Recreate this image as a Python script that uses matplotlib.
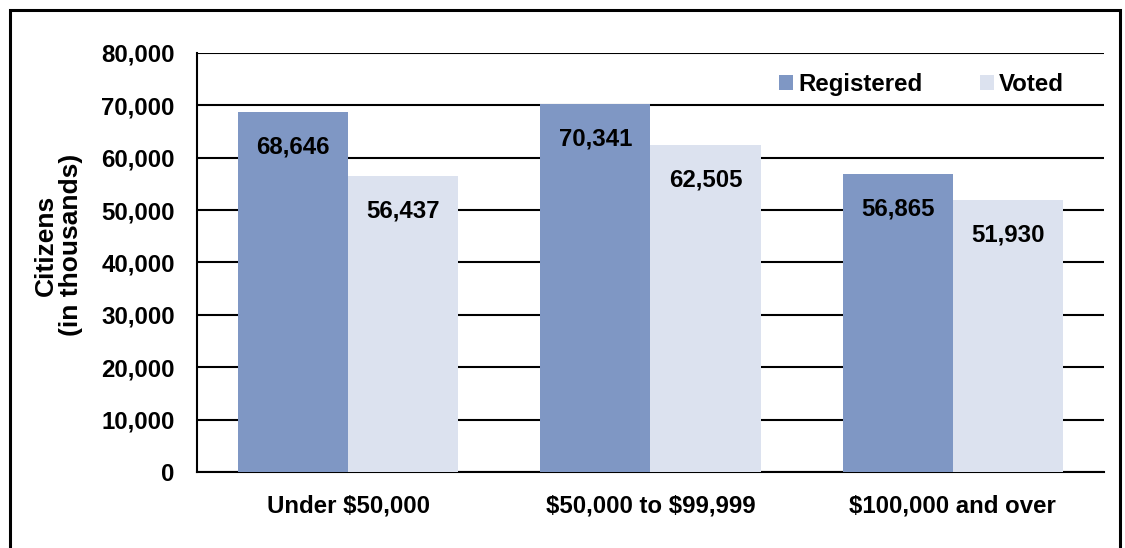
"""Registered vs voted citizens by family income (grouped bars)."""

import matplotlib
matplotlib.use("Agg")
import matplotlib.pyplot as plt
import numpy as np
from matplotlib.patches import Rectangle

CATEGORIES = ["Under \\$50,000", "\\$50,000 to \\$99,999", "\\$100,000 and over"]
REGISTERED = [68646, 70341, 56865]
VOTED = [56437, 62505, 51930]
YTICKS = [0, 10000, 20000, 30000, 40000, 50000, 60000, 70000, 80000]

C_REG = "#7F97C4"
C_VOT = "#DCE2EF"
FS = 17.3


def main():
    plt.rcParams["font.family"] = ["Liberation Sans", "DejaVu Sans"]
    plt.rcParams["font.weight"] = "bold"

    fig = plt.figure(figsize=(11.25, 5.48), dpi=100)
    ax = fig.add_axes([0.1751, 0.1387, 0.8062, 0.7646])

    x = np.arange(len(CATEGORIES))
    w = 0.364
    b1 = ax.bar(x - w / 2, REGISTERED, w, color=C_REG, label="Registered", zorder=3)
    b2 = ax.bar(x + w / 2, VOTED, w, color=C_VOT, label="Voted", zorder=3)

    for bars in (b1, b2):
        for r in bars:
            ax.annotate(f"{int(r.get_height()):,}",
                        (r.get_x() + r.get_width() / 2, r.get_height()),
                        xytext=(0, -35), textcoords="offset pixels",
                        ha="center", va="center", fontsize=FS, fontweight="bold", zorder=4)

    ax.set_xlim(-0.5, 2.5)
    ax.set_ylim(0, 80000)
    ax.set_yticks(YTICKS)
    ax.set_yticklabels([f"{v:,}" for v in YTICKS])
    ax.set_xticks(x)
    ax.set_xticklabels(CATEGORIES)
    ax.tick_params(axis="y", length=0, pad=16, labelsize=FS)
    ax.tick_params(axis="x", length=0, pad=16, labelsize=FS)
    ax.grid(axis="y", color="black", linewidth=1.5, zorder=1)
    ax.set_axisbelow(True)
    for s in ("top", "right"):
        ax.spines[s].set_visible(False)
    ax.spines["left"].set_linewidth(1.5)
    ax.spines["bottom"].set_linewidth(1.5)

    # y label sits a bit above the axis centre in the original
    fig.text(0.052, 0.553, "Citizens\n(in thousands)", rotation=90, ha="center", va="center",
             fontsize=19, fontweight="bold", linespacing=1.05, multialignment="center")

    ax.legend(loc="upper right", bbox_to_anchor=(0.98, 1.005), ncol=2, frameon=False,
              fontsize=FS, handlelength=0.58, handleheight=0.58, handletextpad=0.22,
              columnspacing=2.4)

    fig.patches.append(Rectangle((10 / 1125, -0.2), 1110 / 1125, 1.2 - 10 / 548,
                                 transform=fig.transFigure, fill=False,
                                 edgecolor="black", linewidth=2.2))

    fig.savefig("out.png", dpi=100)
    plt.close(fig)


if __name__ == "__main__":
    main()
